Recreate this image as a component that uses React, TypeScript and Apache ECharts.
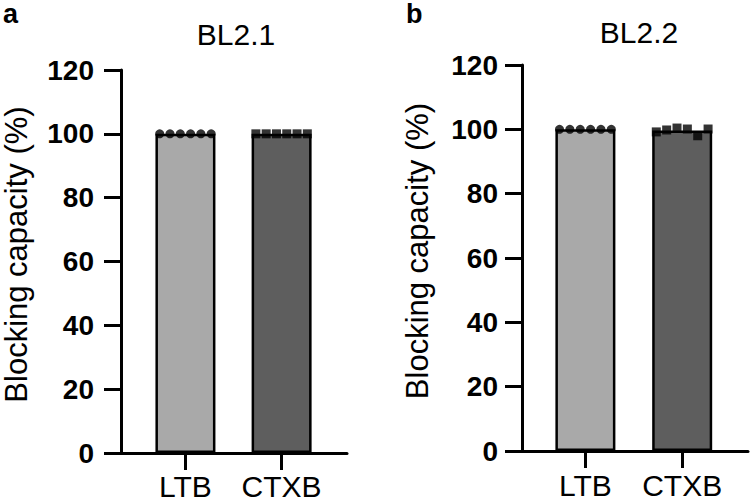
import React, { useEffect, useRef } from "react";
import * as echarts from "echarts";

// Groups on the x axis
const categories = ["LTB", "CTXB"];

// Individual blocking-capacity measurements (%), six replicates per group
const bl21LTB = [100, 100, 100, 100, 100, 100];
const bl21CTXB = [100, 100, 100, 100, 100, 100];
const bl22LTB = [100, 100, 100, 100, 100, 100];
const bl22CTXB = [99.2, 99.8, 100.4, 100.1, 98.0, 100.1];

// Y axis ticks
const yTicks = [0, 20, 40, 60, 80, 100, 120];

const panelTitles = ["BL2.1", "BL2.2"];
const panelLetters = ["a", "b"];
const yAxisName = "Blocking capacity (%)";

const FONT = "'Liberation Sans', Arial, Helvetica, sans-serif";
const barColors = ["#a9a9a9", "#5e5e5e"];

const mean = (v: number[]) => v.reduce((s, x) => s + x, 0) / v.length;

// spread replicate points across the bar width
const jitter = (groupPos: number, values: number[]) =>
  values.map((v, i) => [groupPos + (i - (values.length - 1) / 2) * 0.107, v]);

const panels = [
  { ltb: bl21LTB, ctxb: bl21CTXB, grid: { left: 119, right: 403, top: 70, bottom: 51 }, xMin: 0.33, xMax: 2.68, labelMargin: 27, titleX: 231, titleTop: 14 },
  { ltb: bl22LTB, ctxb: bl22CTXB, grid: { left: 522, right: 2, top: 65, bottom: 53 }, xMin: 0.345, xMax: 2.68, labelMargin: 24, titleX: 634, titleTop: 12 },
];

export default function App() {
  const ref = useRef<HTMLDivElement>(null);

  useEffect(() => {
    if (!ref.current) return;
    const chart = echarts.init(ref.current, undefined, { renderer: "svg" });

    const grids: any[] = [];
    const xAxes: any[] = [];
    const yAxes: any[] = [];
    const series: any[] = [];
    const titles: any[] = [];

    panels.forEach((p, k) => {
      grids.push({ ...p.grid, containLabel: false });
      xAxes.push({
        type: "value",
        gridIndex: k,
        min: p.xMin,
        max: p.xMax,
        splitLine: { show: false },
        axisLine: { show: true, onZero: false, lineStyle: { color: "#000", width: 3 } },
        axisTick: { show: true, customValues: [1, 2], length: 17, lineStyle: { color: "#000", width: 3 } },
        axisLabel: {
          customValues: [1, 2],
          formatter: (v: number) => categories[Math.round(v) - 1] ?? "",
          color: "#000",
          fontFamily: FONT,
          fontSize: 30,
          margin: k === 0 ? 18 : 19,
        },
      });
      yAxes.push({
        type: "value",
        gridIndex: k,
        min: yTicks[0],
        max: yTicks[yTicks.length - 1],
        interval: 20,
        name: yAxisName,
        nameLocation: "middle",
        nameGap: 89,
        nameTextStyle: { color: "#000", fontFamily: FONT, fontSize: 31, padding: [0, 0, 0, 14] },
        splitLine: { show: false },
        axisLine: { show: true, onZero: false, lineStyle: { color: "#000", width: 3 } },
        axisTick: { show: true, length: 17, lineStyle: { color: "#000", width: 3 } },
        axisLabel: {
          color: "#000",
          fontFamily: FONT,
          fontSize: 28,
          fontWeight: "bold",
          margin: p.labelMargin,
        },
      });

      const groups = [p.ltb, p.ctxb];
      series.push({
        type: "bar",
        xAxisIndex: k,
        yAxisIndex: k,
        barWidth: 60,
        data: groups.map((g, i) => ({
          value: [i + 1, mean(g)],
          itemStyle: { color: barColors[i], borderColor: "#000", borderWidth: 2.5 },
        })),
        z: 2,
      });
      series.push({
        type: "scatter",
        xAxisIndex: k,
        yAxisIndex: k,
        symbol: "circle",
        symbolSize: 9,
        itemStyle: { color: "#000" },
        data: jitter(1, p.ltb),
        z: 3,
      });
      series.push({
        type: "scatter",
        xAxisIndex: k,
        yAxisIndex: k,
        symbol: "rect",
        symbolSize: 9,
        itemStyle: { color: "#000" },
        data: jitter(2, p.ctxb),
        z: 3,
      });

      titles.push({
        text: panelTitles[k],
        left: p.titleX,
        top: p.titleTop,
        textAlign: "center",
        textStyle: { color: "#000", fontFamily: FONT, fontSize: 30, fontWeight: "normal" },
      });
    });

    chart.setOption({
      animation: false,
      backgroundColor: "#fff",
      title: titles,
      grid: grids,
      xAxis: xAxes,
      yAxis: yAxes,
      series,
      graphic: panelLetters.map((t, i) => ({
        type: "text",
        x: i === 0 ? 3 : 406,
        y: 14,
        style: {
          text: t,
          fill: "#000",
          font: `bold 27px ${FONT}`,
          verticalAlign: "middle",
        },
      })),
    });

    return () => chart.dispose();
  }, []);

  return (
    <div
      ref={ref}
      style={{ position: "fixed", left: 0, top: 0, width: 750, height: 504, background: "#fff" }}
    />
  );
}
